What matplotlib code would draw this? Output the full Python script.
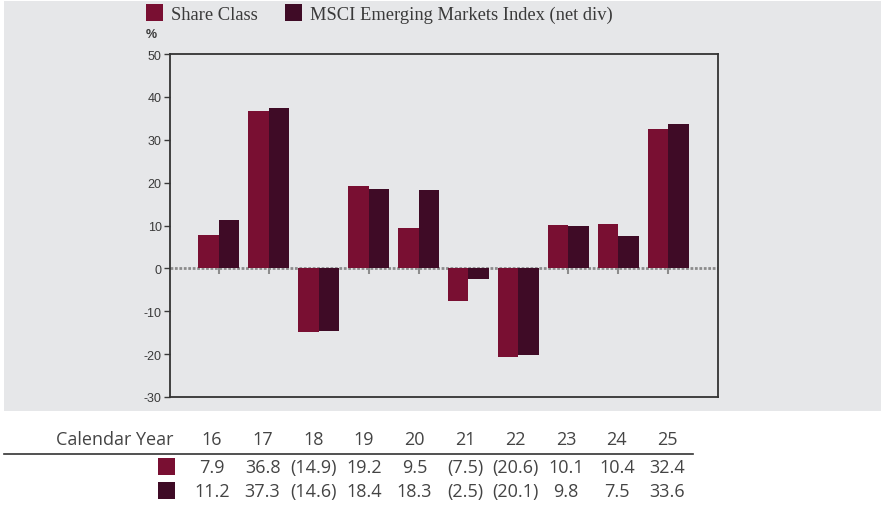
import matplotlib
matplotlib.use("Agg")
import matplotlib.pyplot as plt
from matplotlib.patches import Rectangle
from matplotlib.lines import Line2D

# calendar-year returns, %
years = ["16", "17", "18", "19", "20", "21", "22", "23", "24", "25"]
share_class = [7.9, 36.8, -14.9, 19.2, 9.5, -7.5, -20.6, 10.1, 10.4, 32.4]
msci_index = [11.2, 37.3, -14.6, 18.4, 18.3, -2.5, -20.1, 9.8, 7.5, 33.6]
series_names = ["Share Class", "MSCI Emerging Markets Index (net div)"]
y_ticks = [50, 40, 30, 20, 10, 0, -10, -20, -30]

C_SHARE = "#790f32"
C_INDEX = "#3f0b26"
BG = "#e6e7e9"
TXT = "#3a3a3a"

W, H = 881, 506


def fx(px):
    return px / W


def fy(py):
    return 1 - py / H


def fmt(v):
    return f"({abs(v):.1f})" if v < 0 else f"{v:.1f}"


fig = plt.figure(figsize=(W / 100, H / 100), dpi=100)

# grey panel behind the chart
fig.patches.append(Rectangle((fx(4), fy(412)), 1 - fx(4), fy(2) - fy(412),
                             transform=fig.transFigure, facecolor=BG,
                             edgecolor="none", zorder=-5))

ax = fig.add_axes([fx(170), fy(398), fx(718) - fx(170), fy(55) - fy(398)])
ax.set_facecolor(BG)

x = list(range(len(years)))
bw = 0.41
ax.bar(x, share_class, width=-bw, align="edge", color=C_SHARE, zorder=3)
ax.bar(x, msci_index, width=bw, align="edge", color=C_INDEX, zorder=3)

ax.axhline(0, color="#8c8c8c", lw=2, ls=(0, (1, 0.6)), zorder=2)
ax.vlines(x, -1.4, 0, color="#8c8c8c", lw=1.5, zorder=2)

ax.set_xlim(-0.98, 10.0)
ax.set_ylim(-30, 50)
ax.set_xticks([])
ax.set_yticks(y_ticks)
ax.set_yticklabels([str(t) for t in y_ticks], family="Liberation Sans",
                   fontsize=9, color=TXT)
ax.tick_params(axis="y", length=4, width=1, color=TXT, pad=2)
for s in ax.spines.values():
    s.set_color("#333333")
    s.set_linewidth(1.3)

fig.text(fx(146), fy(35), "%", family="Liberation Sans", fontsize=9,
         fontweight="bold", color=TXT, va="center", ha="left")

# legend at the top
serif = dict(family="Liberation Serif", fontsize=13.3, color=TXT, va="center")
for (x0, tx), name, c in zip([(146, 171), (285, 310)], series_names, [C_SHARE, C_INDEX]):
    fig.patches.append(Rectangle((fx(x0), fy(22)), fx(17), 17 / H,
                                 transform=fig.transFigure, facecolor=c,
                                 edgecolor="none"))
    fig.text(fx(tx), fy(15), name, ha="left", **serif)

# returns table below the chart
tfont = dict(family="Open Sans", fontsize=13, color="#444444", va="center",
             ha="center")
col_x = [212 + 50.6 * i for i in range(len(years))]
fig.text(fx(174), fy(440), "Calendar Year", **{**tfont, "ha": "right"})
for cx, yr, a, b in zip(col_x, years, share_class, msci_index):
    fig.text(fx(cx), fy(440), yr, **tfont)
    fig.text(fx(cx), fy(468), fmt(a), **tfont)
    fig.text(fx(cx), fy(492), fmt(b), **tfont)

fig.lines.append(Line2D([fx(4), fx(693)], [fy(455), fy(455)],
                        transform=fig.transFigure, color="#333333", lw=1.2))
for py, c in [(459, C_SHARE), (483, C_INDEX)]:
    fig.patches.append(Rectangle((fx(158), fy(py + 17)), fx(17), 17 / H,
                                 transform=fig.transFigure, facecolor=c,
                                 edgecolor="none"))

fig.savefig("out.png", dpi=100, facecolor="white")
